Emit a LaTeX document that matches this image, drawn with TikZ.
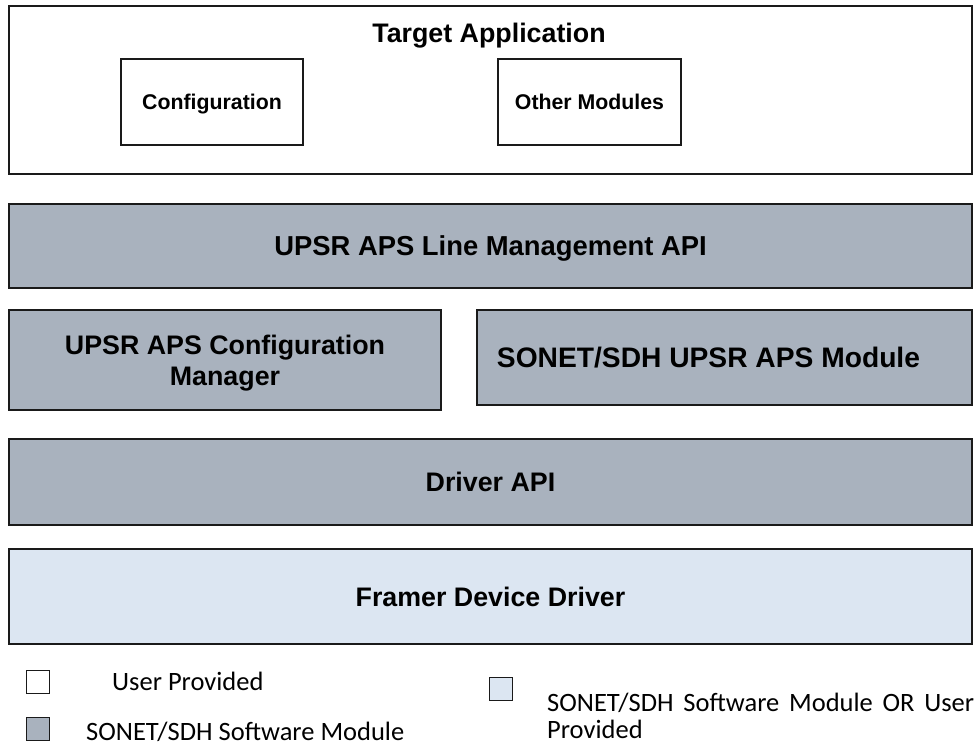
\documentclass[tikz,border=0pt]{standalone}
\usepackage{fontspec}
\setmainfont{Liberation Sans}
\newfontfamily\legendfont{Carlito}
\definecolor{swgrey}{HTML}{A9B2BE}
\definecolor{optblue}{HTML}{DCE6F2}
\definecolor{edge}{HTML}{1A1A1A}
\begin{document}
\begin{tikzpicture}[x=1pt,y=-1pt,
  blk/.style={draw=edge,line width=1.1pt,inner sep=0pt,align=center,text depth=0pt,font=\fontsize{26.8}{31}\selectfont\bfseries},
  smallblk/.style={blk,fill=white,font=\fontsize{21.3}{25}\selectfont\bfseries},
  greyblk/.style={blk,fill=swgrey},
  blueblk/.style={blk,fill=optblue},
  legbox/.style={draw=edge,line width=0.8pt,inner sep=0pt,minimum width=23pt,minimum height=23pt},
  legtext/.style={inner sep=0pt,anchor=base west,font=\legendfont\fontsize{26.5}{31}\selectfont}]
\useasboundingbox (0,0) rectangle (976,747);
\fill[white] (0,0) rectangle (976,747);
% Target application
\node[blk,fill=white,minimum width=963pt,minimum height=168pt] (app) at (490.5,90) {};
\node[inner sep=0pt,text depth=0pt,font=\fontsize{26.8}{31}\selectfont\bfseries] (apptitle) at (489,33) {Target Application};
\node[smallblk,minimum width=182pt,minimum height=86pt] (cfg) at (212,102) {Configuration};
\node[smallblk,minimum width=183pt,minimum height=86pt] (oth) at (589.5,102) {Other Modules};
% layers
\node[greyblk,minimum width=963pt,minimum height=84pt,font=\fontsize{27.4}{32}\selectfont\bfseries] (lm) at (490.5,246) {UPSR APS Line Management API};
\node[greyblk,minimum width=432pt,minimum height=100pt,font=\fontsize{26.8}{31}\selectfont\bfseries] (cm) at (225,360) {UPSR APS Configuration\\Manager};
\node[greyblk,minimum width=495pt,minimum height=95pt,font=\fontsize{28.2}{33}\selectfont\bfseries] (mod) at (724.5,357.5) {SONET/SDH UPSR APS Module\kern32pt};
\node[greyblk,minimum width=963pt,minimum height=86pt] (drv) at (490.5,482) {Driver API};
\node[blueblk,minimum width=963pt,minimum height=95pt] (frm) at (490.5,596.5) {Framer Device Driver};
% legend
\node[legbox,fill=white] (lw) at (38,681.5) {};
\node[legtext] (lwt) at (112,690) {User Provided};
\node[legbox,fill=swgrey] (lg) at (38,728.5) {};
\node[legtext] (lgt) at (86,740) {SONET/SDH Software Module};
\node[legbox,fill=optblue] (lb) at (501,689) {};
\node[legtext] (lbt) at (547,711) {\hbox to 427pt{SONET/SDH\hfil\ Software\hfil\ Module\hfil\ OR\hfil\ User}};
\node[legtext] (lbt2) at (547,738) {Provided};
\end{tikzpicture}
\end{document}
